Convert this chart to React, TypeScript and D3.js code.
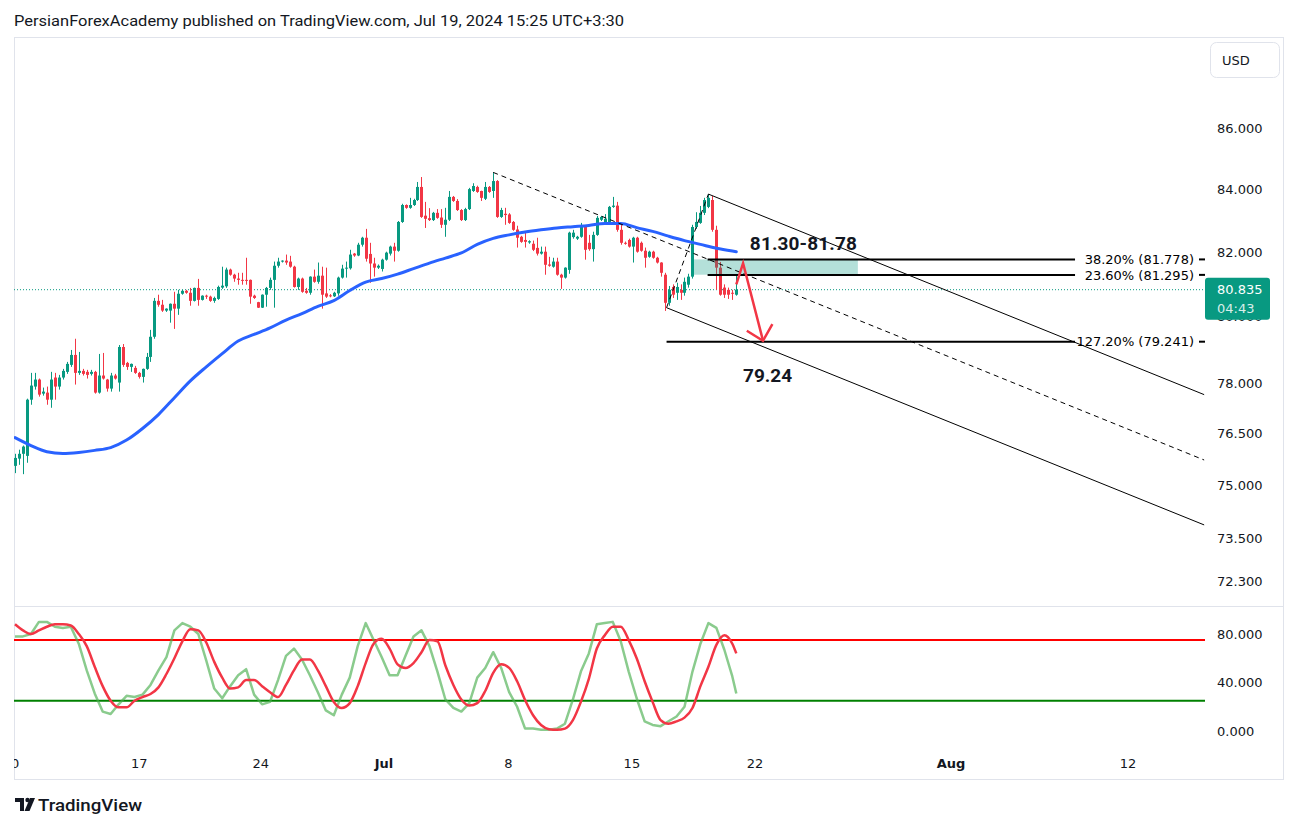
import React from "react";
import * as d3 from "d3";

// ---- candle data (4H bars, index 0 = first bar on the chart) ----
const opens = [
  75.56,75.77,75.91,75.85,77.50,77.89,78.10,77.68,77.71,77.50,
  78.16,77.89,78.16,78.33,78.54,78.84,78.30,78.36,78.33,78.27,
  78.33,77.71,78.22,78.10,77.83,78.22,78.01,79.08,78.60,78.48,
  78.45,78.30,78.18,78.42,78.78,79.39,80.49,80.37,80.19,80.19,
  80.40,80.25,80.71,80.80,80.74,80.49,80.89,80.52,80.65,80.62,
  80.49,80.55,80.90,80.94,81.46,81.30,81.18,81.14,81.14,81.14,
  80.65,80.45,80.28,80.68,80.89,81.14,81.58,81.71,81.74,81.71,
  81.55,80.92,81.18,80.80,80.74,81.24,81.08,81.27,80.72,80.66,
  80.63,80.72,81.21,81.49,81.50,81.96,81.90,82.24,82.46,81.95,
  81.65,81.52,81.48,81.77,81.96,82.18,82.05,82.96,83.50,83.41,
  83.50,83.66,84.08,83.16,83.08,83.02,83.25,83.10,82.87,83.03,
  83.76,83.63,83.34,83.02,83.37,83.95,84.08,83.95,83.70,84.08,
  83.95,84.27,83.12,83.22,83.20,82.96,82.72,82.49,82.39,82.31,
  82.27,82.14,81.96,82.02,81.62,81.55,81.71,81.30,81.21,81.45,
  82.48,82.43,82.49,82.80,82.30,82.10,82.55,83.03,82.93,82.93,
  83.44,83.48,82.71,82.30,82.39,82.18,82.46,82.30,82.05,81.86,
  82.02,81.83,81.68,81.30,80.43,80.92,80.74,80.83,80.74,80.99,
  81.24,82.80,82.93,83.25,83.44,83.66,82.71,81.52,80.90,80.83,
  80.74,80.68,
];
const highs = [
  75.91,76.03,76.15,77.53,78.30,78.30,78.13,77.86,77.89,78.33,
  78.30,78.24,78.42,78.63,78.99,79.33,78.93,78.42,78.39,78.39,
  78.36,78.87,78.90,78.12,78.30,78.27,79.14,79.17,78.63,78.58,
  78.51,78.33,78.43,78.90,79.60,80.58,80.68,80.52,80.26,80.41,
  80.77,80.83,80.83,80.83,80.89,80.90,81.17,80.66,80.68,80.65,
  80.62,80.96,81.55,81.52,81.49,81.33,81.36,81.36,81.83,81.15,
  80.68,80.46,80.69,80.92,81.21,81.71,81.83,81.75,81.93,81.89,
  81.58,81.21,81.21,80.89,81.25,81.46,81.68,81.55,81.52,80.70,
  80.77,81.24,81.61,81.71,82.08,81.98,82.30,82.49,82.74,82.30,
  81.83,81.62,81.80,82.02,82.21,82.30,82.99,83.54,83.52,83.73,
  83.70,84.24,84.40,83.60,83.40,83.28,83.37,83.37,83.41,83.95,
  83.79,83.69,83.37,83.41,84.05,84.20,84.12,83.96,84.24,84.11,
  84.55,84.30,83.41,83.41,83.24,82.99,82.84,82.52,82.65,82.38,
  82.37,82.46,82.18,82.18,81.86,81.83,81.83,81.33,81.53,82.65,
  82.71,82.52,82.93,82.81,82.55,82.65,83.15,83.15,83.21,83.47,
  83.76,83.60,82.87,82.34,82.43,82.49,82.49,82.34,82.15,82.05,
  82.05,81.86,81.69,81.36,80.95,81.00,81.05,81.00,81.21,81.33,
  82.87,83.27,83.47,83.73,83.85,83.79,82.84,81.70,81.00,80.90,
  80.83,81.30,
];
const lows = [
  75.35,75.59,75.32,75.65,77.35,77.80,77.59,77.62,77.35,77.26,
  77.50,77.80,78.10,78.27,78.48,77.95,78.24,78.22,78.13,78.22,
  77.68,77.68,78.10,77.74,77.74,78.10,77.74,78.48,78.39,78.33,
  78.27,78.13,78.01,78.39,78.63,79.33,80.31,80.15,80.15,79.82,
  79.63,80.06,80.68,80.71,80.34,80.47,80.34,80.50,80.55,80.46,
  80.43,80.52,80.86,80.89,81.27,81.08,80.99,80.99,80.99,80.40,
  80.55,80.27,80.27,80.31,80.83,80.28,81.52,81.68,81.61,81.52,
  80.90,80.83,80.74,80.71,80.68,81.05,81.02,80.25,80.58,80.60,
  80.61,80.65,81.18,81.21,81.46,81.86,81.88,82.18,81.71,81.05,
  81.24,81.48,81.40,81.74,81.90,81.71,82.02,82.93,83.38,83.38,
  83.47,83.63,83.09,82.77,82.99,82.99,83.06,82.77,82.49,82.99,
  83.60,83.31,82.99,82.99,83.34,83.92,83.89,83.63,83.66,83.89,
  83.73,83.09,83.09,82.87,82.90,82.68,82.15,82.30,82.15,82.27,
  82.04,81.90,81.93,81.30,81.55,81.52,81.27,80.86,81.18,81.33,
  82.43,82.39,82.46,81.77,82.05,81.71,82.52,82.99,82.87,82.90,
  83.41,82.65,82.24,82.24,82.15,81.68,81.99,82.02,81.52,81.83,
  81.80,81.65,81.24,80.18,80.34,80.58,80.52,80.52,80.65,80.90,
  81.18,82.74,82.90,83.18,83.40,82.65,80.83,80.65,80.58,80.55,
  80.52,80.65,
];
const closes = [
  75.79,75.91,76.12,77.50,77.92,78.10,77.65,77.74,77.50,78.10,
  77.89,78.16,78.36,78.57,78.84,78.30,78.36,78.27,78.24,78.33,
  77.71,78.22,78.13,77.83,78.22,78.13,79.08,78.54,78.48,78.57,
  78.30,78.18,78.42,78.78,79.39,80.49,80.37,80.19,80.25,80.40,
  80.25,80.71,80.80,80.74,80.49,80.89,80.52,80.65,80.62,80.49,
  80.58,80.92,80.96,81.46,81.30,81.18,81.14,81.11,81.11,80.62,
  80.58,80.28,80.68,80.89,81.14,81.58,81.71,81.74,81.68,81.55,
  80.92,81.18,80.77,80.74,81.24,81.08,81.27,80.68,80.62,80.63,
  80.74,81.21,81.49,81.52,81.93,81.90,82.24,82.46,81.80,81.65,
  81.52,81.58,81.77,81.99,82.18,82.05,82.96,83.50,83.41,83.50,
  83.66,84.08,83.12,83.06,83.02,83.25,83.09,82.87,83.03,83.76,
  83.63,83.34,83.02,83.37,84.01,84.11,83.92,83.73,84.08,83.92,
  84.27,83.12,83.34,83.18,82.93,82.71,82.46,82.33,82.33,82.35,
  82.08,81.96,82.02,81.61,81.58,81.71,81.30,81.21,81.52,82.62,
  82.62,82.49,82.80,82.08,82.10,82.55,83.09,83.12,83.06,83.44,
  83.48,82.71,82.30,82.27,82.18,82.46,82.02,82.05,81.83,82.02,
  81.83,81.68,81.36,80.43,80.83,80.68,80.92,80.74,81.08,81.24,
  82.80,82.96,83.25,83.66,83.73,82.71,81.52,80.68,80.68,80.68,
  80.71,80.835,
];

// moving average, sampled every 4 bars (last = final bar)
const maValues = [
  76.38,76.15,75.97,75.92,75.95,76.01,76.09,76.31,76.65,77.06,
  77.56,78.06,78.48,78.88,79.26,79.46,79.66,79.90,80.10,80.32,
  80.50,80.81,81.07,81.18,81.32,81.49,81.66,81.82,81.98,82.25,
  82.44,82.55,82.64,82.71,82.77,82.81,82.85,82.91,82.91,82.78,
  82.66,82.51,82.37,82.25,82.13,82.04,82.02,
];
// stochastic %K / %D, sampled every 2 bars (last = final bar)
const stochK = [
  78,78,80,90,90,86,85,86,72,50, 31,16,14,22,29,28,30,38,50,61,
  83,89,86,80,58,35,27,37,46,51, 30,22,24,42,62,68,59,46,32,17,
  13,30,44,70,89,75,61,46,46,62, 78,83,70,49,26,19,16,23,44,52,
  65,52,32,20,2,2,1,1,2,6, 26,49,64,88,89,90,74,49,27,8,
  5,4,8,12,20,49,72,89,85,67, 45,31,
];
const stochD = [
  88,83,80,83,86,88,88,87,80,70, 53,37,25,19.5,19.5,25,28,30.5,36,47,
  60,74,84,83,73,57,44,35,36,42, 42,37,32,28,38,50,59,59,50,37,
  24,19,23,37,56,72,76,68,55,52, 56,65,75,74,54,38,26,21,23,33,
  48,55,52,41,25.5,13,5,1.5,1,2, 9,24,43,68,79,86,86,75,60,41,
  24,9,6,8,11,19,37,53,71,79, 72,64,
];

const priceTicks = [86, 84, 82, 80, 78, 76.5, 75, 73.5, 72.3];
const oscTicks = [80, 40, 0];
const oscLevels = [75, 25];
const timeTickLabels = ["10", "17", "24", "Jul", "8", "15", "22", "Aug", "12"];
const timeTickPos = [-1, 31.2, 61.7, 92.6, 123.8, 154.8, 185.7, 234.9, 279.3];
const timeTickBold = [false, false, false, true, false, false, false, true, false];

const lastPrice = 80.835;
const lastPriceTimer = "04:43";

// fibonacci levels
const fibLabels = ["38.20% (81.778)", "23.60% (81.295)", "127.20% (79.241)"];
const fibPrices = [81.778, 81.295, 79.241];
const fibStart = [173.8, 173.8, 163.5];
const fibEnd = 266;

// drawings: [barIndex, price]
const trendLine = [[120, 84.55], [298.4, 75.73]];
const channelUpper = [[174, 83.85], [298.4, 77.65]];
const channelLower = [[163.5, 80.28], [298.4, 73.87]];
const fibSwing = [[163.5, 80.28], [174, 83.85]];
const zoneBox = { from: 170, to: 211.5, low: 81.30, high: 81.778 };
const arrowPath = [[181, 81.0], [182.7, 81.66], [187.7, 79.27]];
const zoneLabel = { text: "81.30-81.78", idx: 184.4, price: 82.07 };
const targetLabel = { text: "79.24", idx: 182.7, price: 78.03 };

const GREEN = "#089981";
const RED = "#f23645";
const TXT = "#131722";
const GRID = "#e0e3eb";
const AXIS_FONT = "'DejaVu Sans', sans-serif";

export default function App() {
  const W = 1298, H = 829;
  const plotL = 14, plotR = 1204, plotT = 38, sepY = 606.5, oscB = 748;
  const x = d3.scaleLinear().domain([0, 181]).range([15, 736.3]);
  const y = d3.scaleLog().domain([72.3, 86]).range([581, 128]);
  const yo = d3.scaleLinear().domain([0, 80]).range([731, 634]);

  const maLine = d3.line<number>()
    .x((_, j) => x(Math.min(j * 4, 181)))
    .y((v) => y(v))
    .curve(d3.curveMonotoneX);
  const oscLineSmooth = d3.line<number>()
    .x((_, j) => x(Math.min(j * 2, 181)))
    .y((v) => yo(v))
    .curve(d3.curveMonotoneX);
  const oscLineRaw = d3.line<number>()
    .x((_, j) => x(Math.min(j * 2, 181)))
    .y((v) => yo(v))
    .curve(d3.curveLinear);

  const seg = (pts: number[][]) => ({
    x1: x(pts[0][0]), y1: y(pts[0][1]), x2: x(pts[1][0]), y2: y(pts[1][1]),
  });

  // arrow
  const ap = arrowPath.map(([i, p]) => [x(i), y(p)]);
  const [bx, by] = ap[1];
  const [cx, cy] = ap[2];
  const ang = Math.atan2(by - cy, bx - cx);
  const headLen = 19, spread = (44 * Math.PI) / 180;
  const h1 = [cx + headLen * Math.cos(ang + spread), cy + headLen * Math.sin(ang + spread)];
  const h2 = [cx + headLen * Math.cos(ang - spread), cy + headLen * Math.sin(ang - spread)];

  const candles = closes.map((c, i) => {
    const o = opens[i];
    const up = c >= o;
    const cxp = Math.round(x(i));
    const top = y(Math.max(o, c));
    const bot = y(Math.min(o, c));
    return (
      <g key={i}>
        <line x1={cxp + 0.5} x2={cxp + 0.5} y1={y(highs[i])} y2={y(lows[i])}
          stroke={up ? GREEN : RED} strokeWidth={1} />
        <rect x={cxp - 1} width={3} y={top} height={Math.max(1, bot - top)}
          fill={up ? GREEN : RED} />
      </g>
    );
  });

  const lastY = y(lastPrice);

  return (
    <svg width={W} height={H} style={{ position: "absolute", left: 0, top: 0, background: "#fff" }}
      xmlns="http://www.w3.org/2000/svg">
      <defs>
        <clipPath id="plot">
          <rect x={plotL} y={plotT} width={plotR - plotL + 1} height={sepY - plotT} />
        </clipPath>
        <clipPath id="osc">
          <rect x={plotL} y={sepY} width={plotR - plotL + 1} height={oscB - sepY} />
        </clipPath>
        <clipPath id="taxis">
          <rect x={plotL} y={748} width={plotR - plotL} height={30} />
        </clipPath>
      </defs>
      <rect x={0} y={0} width={W} height={H} fill="#fff" />

      {/* header */}
      <text x={14} y={26} fontFamily="Roboto, sans-serif" fontSize={15} fill={TXT}
        textLength={610} lengthAdjust="spacingAndGlyphs">
        PersianForexAcademy published on TradingView.com, Jul 19, 2024 15:25 UTC+3:30
      </text>

      {/* frame */}
      <rect x={14.5} y={37.5} width={1269} height={742} fill="none" stroke={GRID} strokeWidth={1} />
      <line x1={14} x2={1284} y1={sepY} y2={sepY} stroke={GRID} strokeWidth={1} />

      {/* price pane */}
      <g clipPath="url(#plot)">
        <line x1={plotL} x2={plotR} y1={lastY} y2={lastY} stroke={GREEN} strokeWidth={1}
          strokeDasharray="1 2" />
        {candles}
        <path d={maLine(maValues) || ""} fill="none" stroke="#2962ff" strokeWidth={3}
          strokeLinejoin="round" strokeLinecap="round" />
        <rect x={x(zoneBox.from)} width={x(zoneBox.to) - x(zoneBox.from)}
          y={y(zoneBox.high)} height={y(zoneBox.low) - y(zoneBox.high)}
          fill="rgba(8,153,129,0.3)" />
        {fibPrices.map((p, k) => (
          <g key={k}>
            <line x1={x(fibStart[k])} x2={x(fibEnd)} y1={y(p)} y2={y(p)} stroke="#000" strokeWidth={2} />
            <line x1={1199} x2={1205} y1={y(p)} y2={y(p)} stroke="#000" strokeWidth={2} />
            <text x={1194} y={y(p)} dy="0.36em" textAnchor="end" fontFamily={AXIS_FONT}
              fontSize={13} fill="#000">{fibLabels[k]}</text>
          </g>
        ))}
        <line {...seg(trendLine)} stroke="#000" strokeWidth={1} strokeDasharray="5 4" />
        <line {...seg(fibSwing)} stroke="#000" strokeWidth={1} strokeDasharray="5 4" />
        <line {...seg(channelUpper)} stroke="#000" strokeWidth={1} />
        <line {...seg(channelLower)} stroke="#000" strokeWidth={1} />
        <polyline points={ap.map((p) => p.join(",")).join(" ")} fill="none" stroke={RED}
          strokeWidth={2.5} strokeLinejoin="miter" />
        <polyline points={[h1, [cx, cy], h2].map((p) => p.join(",")).join(" ")} fill="none"
          stroke={RED} strokeWidth={2.5} />
        <text x={x(zoneLabel.idx)} y={y(zoneLabel.price)} fontFamily="Roboto, sans-serif"
          fontWeight={700} fontSize={19} fill={TXT} textLength={107} lengthAdjust="spacing">
          {zoneLabel.text}
        </text>
        <text x={x(targetLabel.idx)} y={y(targetLabel.price)} fontFamily="Roboto, sans-serif"
          fontWeight={700} fontSize={19} fill={TXT} textLength={49} lengthAdjust="spacing">
          {targetLabel.text}
        </text>
      </g>

      {/* oscillator pane */}
      <g clipPath="url(#osc)">
        {oscLevels.map((v, k) => (
          <line key={k} x1={plotL} x2={plotR + 1} y1={yo(v)} y2={yo(v)}
            stroke={k === 0 ? "#ff0000" : "#008000"} strokeWidth={2} />
        ))}
        <path d={oscLineRaw(stochK) || ""} fill="none" stroke="rgba(76,175,80,0.65)" strokeWidth={2.5}
          strokeLinejoin="round" />
        <path d={oscLineSmooth(stochD) || ""} fill="none" stroke="#f23645" strokeWidth={2.5}
          strokeLinejoin="round" />
      </g>

      {/* price axis */}
      {priceTicks.map((t) => (
        <text key={t} x={1217} y={y(t)} dy="0.36em" fontFamily={AXIS_FONT} fontSize={13} fill={TXT}>
          {t.toFixed(3)}
        </text>
      ))}
      {oscTicks.map((t) => (
        <text key={t} x={1217} y={yo(t)} dy="0.36em" fontFamily={AXIS_FONT} fontSize={13} fill={TXT}>
          {t.toFixed(3)}
        </text>
      ))}
      <rect x={1205} y={lastY - 12} width={65} height={42} rx={3} fill={GREEN} />
      <text x={1217} y={lastY} dy="0.36em" fontFamily={AXIS_FONT} fontSize={13} fill="#fff">
        {lastPrice.toFixed(3)}
      </text>
      <text x={1217} y={lastY + 19} dy="0.36em" fontFamily={AXIS_FONT} fontSize={13}
        fill="rgba(255,255,255,0.85)">
        {lastPriceTimer}
      </text>

      {/* currency button */}
      <rect x={1210.5} y={42.5} width={69} height={35} rx={6} fill="#fff" stroke={GRID} />
      <text x={1222} y={60} dy="0.36em" fontFamily={AXIS_FONT} fontSize={13} fill={TXT}>USD</text>

      {/* time axis */}
      <g clipPath="url(#taxis)">
        {timeTickLabels.map((l, k) => (
          <text key={l} x={x(timeTickPos[k])} y={763} dy="0.36em" textAnchor="middle"
            fontFamily={AXIS_FONT} fontSize={13} fontWeight={timeTickBold[k] ? 700 : 400} fill={TXT}>
            {l}
          </text>
        ))}
      </g>

      {/* logo */}
      <g fill={TXT}>
        <path d="M15 798 h9 v13 h-4 v-9 h-5 z" />
        <circle cx={27.5} cy={800} r={2.2} />
        <path d="M30 798 h5 l-5.5 13 h-5 z" />
        <text x={38} y={811} fontFamily="Roboto, sans-serif" fontWeight={500} fontSize={17}
          textLength={104} lengthAdjust="spacingAndGlyphs">TradingView</text>
      </g>
    </svg>
  );
}
